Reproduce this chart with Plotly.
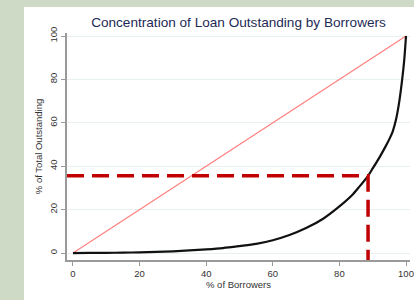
import plotly.graph_objects as go

# Lorenz-type curve
borrowers_pct = [0, 5, 10, 15, 20, 25, 30, 35, 40, 45, 50, 55, 60, 65, 70, 75, 80, 84, 86, 88.6, 90, 92, 94, 95, 96, 97, 98, 99, 99.5, 100]
outstanding_pct = [0, 0.05, 0.1, 0.2, 0.3, 0.5, 0.8, 1.2, 1.7, 2.3, 3.2, 4.2, 5.9, 8.3, 11.5, 15.7, 21.5, 27, 30.6, 35.6, 39, 44, 49.5, 52.5, 56, 61.5, 70, 82, 89.5, 100]

equality_x = [0, 100]
equality_y = [0, 100]

# reference marker (dashed)
marker_x = 88.6
marker_y = 35.6
x_range = [-1.8, 101.2]
y_range = [-3.2, 101.4]

x_ticks = [0, 20, 40, 60, 80, 100]
y_ticks = [0, 20, 40, 60, 80, 100]

fig = go.Figure()
fig.add_trace(go.Scatter(x=equality_x, y=equality_y, mode="lines",
                         line=dict(color="#ff7f7f", width=1.2), hoverinfo="skip"))
fig.add_trace(go.Scatter(x=borrowers_pct, y=outstanding_pct, mode="lines",
                         line=dict(color="#111111", width=2.2, shape="spline", smoothing=0.8)))
fig.add_trace(go.Scatter(x=[x_range[0], marker_x, marker_x], y=[marker_y, marker_y, y_range[0]],
                         mode="lines", line=dict(color="#c00000", width=3.5, dash="17px,8px")))

fig.add_shape(type="rect", xref="paper", yref="paper",
              x0=-43/343, x1=4/343 + 1, y0=-40/227, y1=1 + 26/227,
              fillcolor="white", line=dict(width=0), layer="below")

axis_common = dict(showline=True, linecolor="#9a9a9a", linewidth=1.5,
                   ticks="outside", ticklen=4, tickcolor="#9a9a9a", tickwidth=1,
                   tickfont=dict(size=9.5, color="#333333", family="Liberation Sans"),
                   zeroline=False, mirror=False, automargin=False)

fig.update_layout(
    width=414, height=300,
    margin=dict(l=67, r=4, t=33, b=40, autoexpand=False),
    paper_bgcolor="#cedac5", plot_bgcolor="white",
    showlegend=False,
    title=dict(text="Concentration of Loan Outstanding by Borrowers",
               x=0.5, xref="paper", xanchor="center", y=1 - 22/300, yanchor="middle",
               font=dict(size=13.6, color="#1e2a55", family="Liberation Sans")),
    xaxis=dict(range=x_range, tickvals=x_ticks, showgrid=False,
               title=dict(text="% of Borrowers", standoff=2,
                          font=dict(size=9.5, color="#333333", family="Liberation Sans")),
               **axis_common),
    yaxis=dict(range=y_range, tickvals=y_ticks, tickangle=-90, showgrid=True,
               gridcolor="#e8f0f0", gridwidth=1,
               title=dict(text="% of Total Outstanding", standoff=4,
                          font=dict(size=9.5, color="#333333", family="Liberation Sans")),
               **axis_common),
)

fig.write_html("out.html", config={"displayModeBar": False},
               post_script="document.body.style.margin='0';document.body.style.overflow='hidden';")
